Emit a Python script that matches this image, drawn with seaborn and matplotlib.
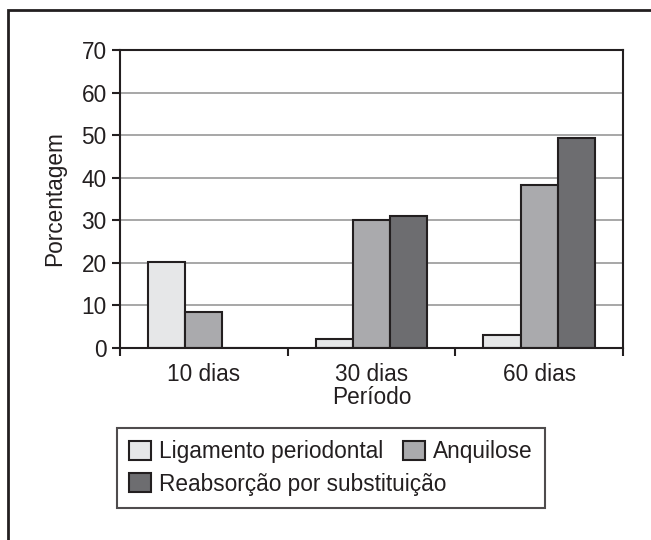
import matplotlib
matplotlib.use("Agg")
import matplotlib.pyplot as plt
from matplotlib.patches import Rectangle
import seaborn as sns
import pandas as pd

periodos = ["10 dias", "30 dias", "60 dias"]
tipos = ["Ligamento periodontal", "Anquilose", "Reabsorção por substituição"]
ligamento = [20.3, 2.0, 3.0]
anquilose = [8.4, 30.0, 38.3]
reabsorcao = [0.0, 31.0, 49.4]
cores = ["#e6e7e8", "#a9aaad", "#6c6c70"]

rows = []
for tipo, vals in zip(tipos, [ligamento, anquilose, reabsorcao]):
    for p, v in zip(periodos, vals):
        rows.append({"periodo": p, "tipo": tipo, "pct": v})
df = pd.DataFrame(rows)

sns.set_style("white")
plt.rcParams["font.family"] = ["Liberation Sans", "DejaVu Sans"]
txt = "#231f20"
fs = 16.3

fig = plt.figure(figsize=(6.51, 5.4), dpi=100)
ax = fig.add_axes([120/651, 1 - 348/540, 503/651, 298/540])

sns.barplot(data=df, x="periodo", y="pct", hue="tipo", palette=cores,
            width=0.667, edgecolor=txt, linewidth=1.5, ax=ax, legend=True)

ax.set_xlim(-0.5, 2.5)
ax.set_ylim(0, 70)
ax.set_yticks(range(0, 71, 10))
ax.yaxis.grid(True, color="#a0a0a0", linewidth=1.3)
ax.set_axisbelow(True)
for s in ax.spines.values():
    s.set_color(txt)
    s.set_linewidth(1.5)

# tick marks between categories, labels at the centres
ax.set_xticks([-0.5, 0.5, 1.5, 2.5])
ax.set_xticklabels([])
ax.set_xticks([0, 1, 2], minor=True)
ax.set_xticklabels(periodos, minor=True)
ax.tick_params(axis="x", which="major", direction="out", length=5.5, width=1.5, color=txt, bottom=True)
ax.tick_params(axis="x", which="minor", length=0, pad=10.5, labelsize=fs, labelcolor=txt)
ax.tick_params(axis="y", direction="out", length=5.5, width=1.5, color=txt, left=True,
               pad=4, labelsize=fs, labelcolor=txt)

ax.set_xlabel("Período", fontsize=fs, color=txt, labelpad=0)
ax.set_ylabel("Porcentagem", fontsize=fs, color=txt, labelpad=11)

handles, labels = ax.get_legend_handles_labels()
ax.get_legend().remove()
order = [0, 2, 1]
leg = fig.legend([handles[i] for i in order], [labels[i] for i in order],
                 loc="upper left", bbox_to_anchor=(117/651, 1 - 428/540),
                 ncol=2, fontsize=fs, frameon=True, fancybox=False,
                 edgecolor=txt, borderaxespad=0, handlelength=0.95,
                 handleheight=0.95, handletextpad=0.35, columnspacing=-1.9,
                 labelspacing=0.4, borderpad=0.55)
leg.get_frame().set_linewidth(1.5)
for t in leg.get_texts():
    t.set_color(txt)

# outer frame of the figure
fig.patches.append(Rectangle((8/651, -0.1), 1.2, 1.1 - 10/540, transform=fig.transFigure,
                             fill=False, edgecolor=txt, linewidth=2))

fig.savefig("out.png", dpi=100)
